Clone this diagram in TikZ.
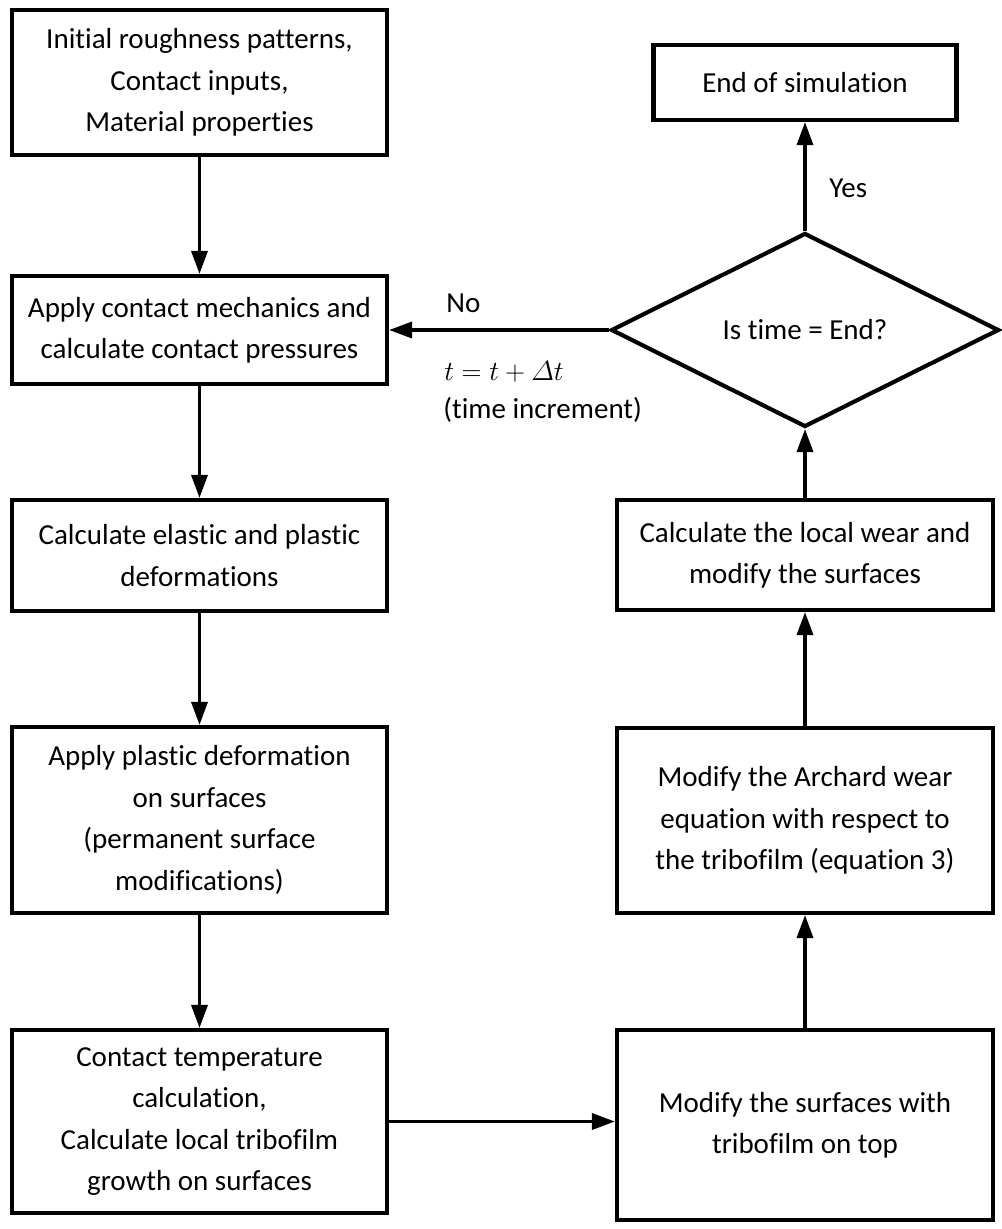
\documentclass[tikz,border=0pt]{standalone}
\usepackage{amsmath}
\usepackage{fontspec}
\setmainfont{Carlito}[RawFeature={-liga;-clig;-calt;-dlig}]
\usetikzlibrary{arrows.meta,shapes.geometric}
\begin{document}
\begin{tikzpicture}[x=0.75pt,y=-0.75pt,
  font=\fontsize{21.75pt}{31.1pt}\selectfont,
  box/.style={draw, line width=3.1pt, align=center, inner sep=0pt, minimum width=281.25pt},
  rbox/.style={box, minimum width=282pt},
  decision/.style={draw, diamond, line width=3.1pt, aspect=2, inner sep=0pt, minimum width=291pt, minimum height=145.5pt},
  flow/.style={line width=2.6pt, -{Triangle[length=17.25pt, width=12pt]}},
  lbl/.style={inner sep=0pt, anchor=west}
]
\useasboundingbox (0,0) rectangle (1002,1229);
\fill[white] (0,0) rectangle (1002,1229);

% left column
\node[box, minimum height=108.75pt] (n1) at (199.5,82.5) {Initial roughness patterns,\\Contact inputs,\\Material properties};
\node[box, minimum height=81pt] (n2) at (199.5,330) {Apply contact mechanics and\\calculate contact pressures};
\node[box, minimum height=83.25pt] (n3) at (199.5,555.5) {Calculate elastic and plastic\\deformations};
\node[box, minimum height=139.5pt] (n4) at (199.5,820) {Apply plastic deformation\\on surfaces\\(permanent surface\\modifications)};
\node[box, minimum height=137.25pt] (n5) at (199.5,1121.5) {Contact temperature\\calculation,\\Calculate local tribofilm\\growth on surfaces};

% right column
\node[rbox, minimum height=142.5pt] (r3) at (805,1125) {Modify the surfaces with\\tribofilm on top};
\node[rbox, minimum height=138.75pt] (r2) at (805,820.5) {Modify the Archard wear\\equation with respect to\\the tribofilm (equation 3)};
\node[rbox, minimum height=82.5pt] (r1) at (805,555) {Calculate the local wear and\\modify the surfaces};
\node[decision] (d) at (805,330) {Is time = End?};
\node[box, minimum width=227.25pt, minimum height=56.25pt] (e) at (805,82.5) {End of simulation};

% connectors
\draw[flow] (n1.south) -- (n2.north);
\draw[flow] (n2.south) -- (n3.north);
\draw[flow] (n3.south) -- (n4.north);
\draw[flow] (n4.south) -- (n5.north);
\draw[flow] (n5.east) -- (n5.east -| r3.west);
\draw[flow] (r3.north) -- (r2.south);
\draw[flow] (r2.north) -- (r1.south);
\draw[flow] (r1.north) -- (d.south);
\draw[flow] (d.north) -- (e.south);
\draw[flow] (d.west) -- (n2.east);

% labels
\node[lbl] (yes) at (829,188) {Yes};
\node[lbl] (no) at (446,303) {No};
\node[lbl] (teq) at (444,372) {$t = t + \varDelta t$};
\node[lbl] (ti) at (443,410) {(time increment)};
\end{tikzpicture}
\end{document}
